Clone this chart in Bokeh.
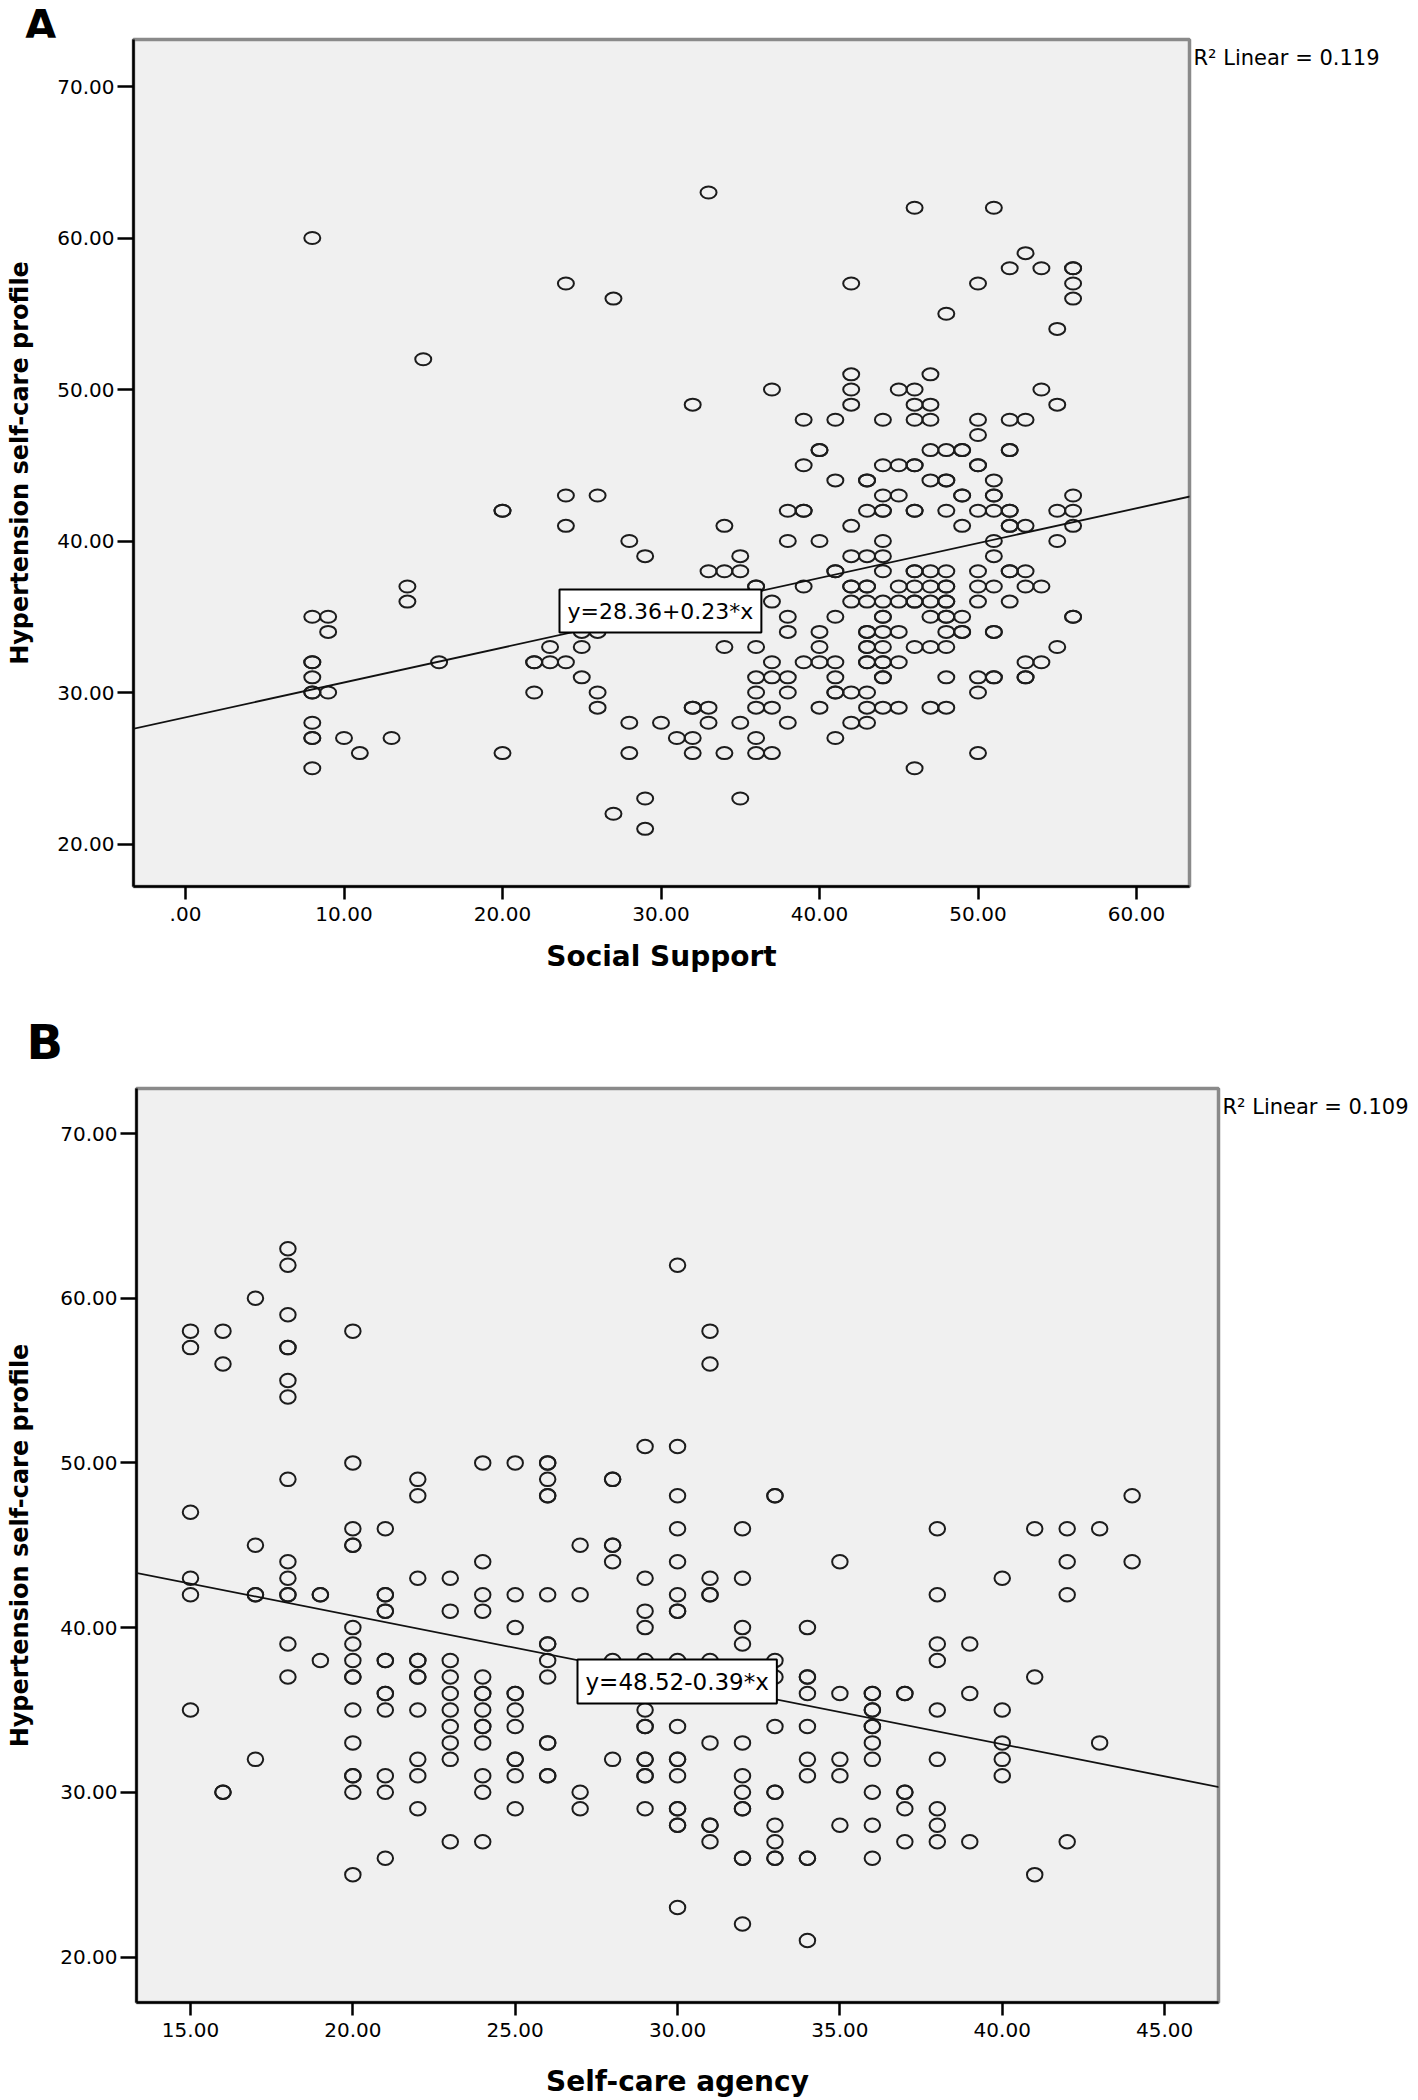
from bokeh.plotting import figure
from bokeh.models import Label, Slope, FixedTicker, Range1d, LinearAxis
from bokeh.layouts import column
from bokeh.embed import file_html
from bokeh.resources import INLINE

# ---------------- Panel A : Social Support vs Hypertension self-care profile
a_profile_levels = [63, 62, 60, 59, 58, 57, 56, 55, 54, 52, 51, 50, 49, 48, 47, 46, 45, 44, 43, 42,
                    41, 40, 39, 38, 37, 36, 35, 34, 33, 32, 31, 30, 29, 28, 27, 26, 25, 23, 22, 21]
a_support_rows = [
    [33],
    [46, 51],
    [8],
    [53],
    [52, 54, 56, 56],
    [24, 42, 50, 56],
    [27, 56],
    [48],
    [55],
    [15],
    [42, 47],
    [37, 42, 45, 46, 54],
    [32, 42, 46, 47, 55],
    [39, 41, 44, 46, 47, 50, 52, 53],
    [50],
    [40, 40, 47, 48, 49, 49, 52, 52],
    [39, 44, 45, 46, 46, 50, 50],
    [41, 43, 43, 47, 48, 48, 51],
    [24, 26, 44, 45, 49, 49, 51, 51, 56],
    [20, 20, 38, 39, 39, 43, 44, 44, 46, 46, 48, 50, 51, 52, 52, 55, 56],
    [24, 34, 42, 49, 52, 52, 53, 56],
    [28, 38, 40, 44, 51, 55],
    [29, 35, 42, 43, 44, 51],
    [33, 34, 35, 41, 41, 44, 46, 46, 47, 48, 50, 52, 52, 53],
    [14, 36, 36, 39, 42, 42, 43, 43, 45, 46, 47, 48, 48, 50, 51, 53, 54],
    [14, 37, 42, 43, 44, 45, 46, 46, 47, 48, 48, 50, 52],
    [8, 9, 38, 41, 44, 44, 47, 48, 48, 49, 56, 56],
    [9, 25, 26, 38, 40, 43, 43, 44, 45, 48, 49, 49, 51, 51],
    [23, 25, 34, 36, 40, 43, 43, 44, 46, 47, 48, 55],
    [8, 8, 16, 22, 22, 23, 24, 37, 39, 40, 41, 43, 43, 44, 44, 45, 53, 54],
    [8, 25, 36, 37, 38, 41, 44, 44, 48, 50, 51, 51, 53, 53],
    [8, 8, 9, 22, 26, 36, 38, 41, 41, 42, 43, 50],
    [26, 32, 32, 33, 36, 37, 40, 43, 44, 45, 47, 48],
    [8, 28, 30, 33, 35, 38, 42, 43],
    [8, 8, 10, 13, 31, 32, 36, 41],
    [11, 20, 28, 32, 34, 36, 37, 50],
    [8, 46],
    [29, 35],
    [27],
    [29],
]
a_fit = {"intercept": 28.36, "slope": 0.23}
a_r2_text = "R\u00b2 Linear = 0.119"
a_eq_text = "y=28.36+0.23*x"
a_xticks = [0, 10, 20, 30, 40, 50, 60]
a_xtick_labels = [".00", "10.00", "20.00", "30.00", "40.00", "50.00", "60.00"]

# ---------------- Panel B : Self-care agency vs Hypertension self-care profile
b_profile_levels = [63, 62, 60, 59, 58, 57, 56, 55, 54, 51, 50, 49, 48, 47, 46, 45, 44, 43, 42, 41,
                    40, 39, 38, 37, 36, 35, 34, 33, 32, 31, 30, 29, 28, 27, 26, 25, 23, 22, 21]
b_agency_rows = [
    [18],
    [18, 30],
    [17],
    [18],
    [15, 16, 20, 31],
    [15, 18, 18],
    [16, 31],
    [18],
    [18],
    [29, 30],
    [20, 24, 25, 26, 26],
    [18, 22, 26, 28, 28],
    [22, 26, 26, 30, 33, 33, 44],
    [15],
    [20, 21, 30, 32, 38, 41, 42, 43],
    [17, 20, 20, 27, 28, 28],
    [18, 24, 28, 30, 35, 42, 44],
    [15, 18, 22, 23, 29, 31, 32, 40],
    [15, 17, 17, 18, 18, 19, 19, 21, 21, 24, 25, 26, 27, 30, 31, 31, 38, 42],
    [21, 21, 23, 24, 29, 30, 30],
    [20, 25, 29, 32, 34],
    [18, 20, 26, 26, 32, 38, 39],
    [19, 20, 21, 21, 22, 22, 23, 26, 28, 29, 30, 31, 33, 38],
    [18, 20, 20, 22, 22, 23, 24, 26, 33, 34, 34, 41],
    [21, 21, 23, 24, 24, 25, 25, 34, 35, 36, 36, 37, 37, 39],
    [15, 20, 21, 22, 23, 24, 25, 29, 36, 36, 38, 40],
    [23, 24, 24, 25, 29, 29, 30, 33, 34, 36, 36],
    [20, 23, 24, 26, 26, 31, 32, 36, 40, 43],
    [17, 22, 23, 25, 25, 28, 29, 29, 30, 30, 34, 35, 36, 38, 40],
    [20, 20, 21, 22, 24, 25, 26, 26, 29, 29, 30, 32, 34, 35, 40],
    [16, 16, 20, 21, 24, 27, 32, 33, 33, 36, 37, 37],
    [22, 25, 27, 29, 30, 30, 32, 32, 37, 38],
    [30, 30, 31, 31, 33, 35, 36, 38],
    [23, 24, 31, 33, 37, 38, 39, 42],
    [21, 32, 32, 33, 33, 34, 34, 36],
    [20, 41],
    [30],
    [32],
    [34],
]
b_fit = {"intercept": 48.52, "slope": -0.39}
b_r2_text = "R\u00b2 Linear = 0.109"
b_eq_text = "y=48.52-0.39*x"
b_xticks = [15, 20, 25, 30, 35, 40, 45]
b_xtick_labels = ["15.00", "20.00", "25.00", "30.00", "35.00", "40.00", "45.00"]

y_ticks = [20, 30, 40, 50, 60, 70]
y_tick_labels = ["20.00", "30.00", "40.00", "50.00", "60.00", "70.00"]
y_title = "Hypertension self-care profile"

FONT = "DejaVu Sans"
W = 1418


def no_align(fig):
    # keep every figure's frame where it is set, instead of lining frames up in the column
    if "frame_align" in fig.properties():
        fig.frame_align = False
    return fig


def negative_margin_ok():
    try:
        f = figure()
        f.margin = (-1, 0, 0, 0)
        return True
    except Exception:
        return False


def flatten(levels, rows):
    xs = [x for row in rows for x in row]
    ys = [lv for lv, row in zip(levels, rows) for _ in row]
    return xs, ys


def header(letter, height, x, size):
    # a strip above a panel that carries its bold panel letter (text box resting on its bottom)
    h = figure(width=W, height=height, output_backend="svg", toolbar_location=None,
               x_range=Range1d(0, W), y_range=Range1d(0, height),
               x_axis_type=None, y_axis_type=None, min_border=0)
    h.outline_line_color = None
    h.background_fill_color = "white"
    h.border_fill_color = "white"
    h.xgrid.visible = False
    h.ygrid.visible = False
    h.add_layout(Label(x=x, y=0, text=letter, text_font=FONT, text_font_style="bold",
                       text_font_size=size, text_color="black",
                       text_align="left", text_baseline="bottom"))
    return no_align(h)


def build(levels, rows, fit, r2, eq, xticks, xlabels, x_title, xr, yr, height, borders,
          x_title_standoff, y_title_standoff, marker_wh):
    left, right, top, bottom = borders
    p = figure(width=W, height=height, output_backend="svg", toolbar_location=None,
               x_range=Range1d(*xr), y_range=Range1d(*yr),
               min_border_left=left, min_border_right=right,
               min_border_top=top, min_border_bottom=bottom)
    p.background_fill_color = "#f0f0f0"
    p.border_fill_color = "white"
    p.outline_line_color = "#8a8a8a"
    p.outline_line_width = 3.5
    p.xgrid.visible = False
    p.ygrid.visible = False

    xs, ys = flatten(levels, rows)
    p.ellipse(x=xs, y=ys, width=marker_wh[0], height=marker_wh[1],
              width_units="screen", height_units="screen",
              fill_color=None, line_color="#1c1c1c", line_width=2.0)

    p.add_layout(Slope(gradient=fit["slope"], y_intercept=fit["intercept"],
                       line_color="#111111", line_width=1.8))

    for ax, ticks, labels in ((p.xaxis[0], xticks, xlabels), (p.yaxis[0], y_ticks, y_tick_labels)):
        ax.ticker = FixedTicker(ticks=ticks)
        ax.major_label_overrides = {t: l for t, l in zip(ticks, labels)}
        ax.major_label_text_font = FONT
        ax.major_label_text_font_size = "20px"
        ax.major_label_text_color = "black"
        ax.axis_line_color = "black"
        ax.axis_line_width = 2.5
        ax.major_tick_line_color = "black"
        ax.major_tick_line_width = 2.5
        ax.major_tick_in = 0
        ax.minor_tick_line_color = None
        ax.axis_label_text_font = FONT
        ax.axis_label_text_font_style = "bold"
        ax.axis_label_text_color = "black"
    p.xaxis.major_tick_out = 13
    p.xaxis.major_label_standoff = 7
    p.xaxis.axis_label = x_title
    p.xaxis.axis_label_text_font_size = "28px"
    p.xaxis.axis_label_standoff = x_title_standoff
    p.yaxis.major_tick_out = 16
    p.yaxis.major_label_standoff = 3
    p.yaxis.axis_label = y_title
    p.yaxis.axis_label_text_font_size = "24px"
    p.yaxis.axis_label_standoff = y_title_standoff

    # R^2 note, written just outside the frame's right edge near its top
    r2_text, r2_y = r2
    note = LinearAxis(ticker=FixedTicker(ticks=[r2_y]), major_label_overrides={r2_y: r2_text},
                      axis_line_color=None, major_tick_line_color=None, minor_tick_line_color=None,
                      major_tick_out=0, major_tick_in=0, major_label_standoff=4,
                      major_label_text_font=FONT, major_label_text_font_size="21px",
                      major_label_text_color="black")
    p.add_layout(note, "right")

    # regression equation box (anchored at its bottom-left corner)
    eq_text, eq_x, eq_y, eq_size = eq
    p.add_layout(Label(x=eq_x, y=eq_y, text=eq_text, text_font=FONT,
                       text_font_size=eq_size, text_color="black",
                       text_align="left", text_baseline="bottom",
                       padding=(8, 9),
                       background_fill_color="white", border_line_color="black",
                       border_line_width=2))
    return no_align(p)


# page-pixel -> data helpers (reference geometry)
def ax_px(px):
    return (px - 185) / 15.85


def ay_px(py):
    return 70 + (86 - py) / 15.15


def bx_px(px):
    return 15 + (px - 190) / 32.47


def by_px(py):
    return 70 + (1133 - py) / 16.47


# letter A sits above panel A's frame; its strip may slide under panel A's white top margin
overlap = 12 if negative_margin_ok() else 0
hA = header("A", 37 + overlap, 24, "42px" if overlap else "31px")
pA = build(a_profile_levels, a_support_rows, a_fit, (a_r2_text, ay_px(57)),
           (a_eq_text, ax_px(559), ay_px(632), "22px"),
           a_xticks, a_xtick_labels, "Social Support",
           (ax_px(133), ax_px(1189)), (ay_px(886), ay_px(39)), 963,
           (133, W - 1189, 2, 114), 16, 20, (16, 12))
if overlap:
    pA.margin = (-overlap, 0, 0, 0)

hB = header("B", 69, 26, "48px")
pB = build(b_profile_levels, b_agency_rows, b_fit, (b_r2_text, by_px(1106)),
           (b_eq_text, bx_px(577), by_px(1703), "23px"),
           b_xticks, b_xtick_labels, "Self-care agency",
           (bx_px(136), bx_px(1218)), (by_px(2002), by_px(1088)), 1031,
           (136, W - 1218, 19, 98), 25, 23, (15.5, 13.5))

layout = column(hA, pA, hB, pB, spacing=0)
open("out.html", "w").write(file_html(layout, INLINE))
